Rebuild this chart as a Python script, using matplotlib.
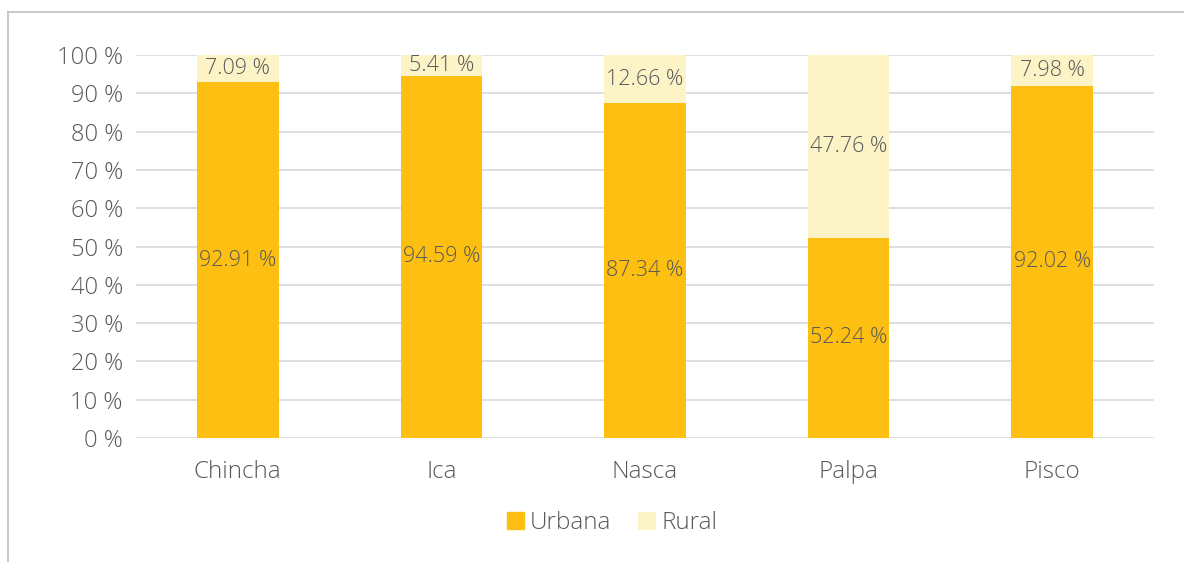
import matplotlib.pyplot as plt
import numpy as np
from matplotlib.lines import Line2D
from matplotlib.patches import Patch

provinces = ["Chincha", "Ica", "Nasca", "Palpa", "Pisco"]
urbana = [92.91, 94.59, 87.34, 52.24, 92.02]
rural = [7.09, 5.41, 12.66, 47.76, 7.98]

plt.rcParams['font.family'] = ['Open Sans', 'DejaVu Sans']
plt.rcParams['font.weight'] = 'light'
text_color = '#595959'
c_urb = '#FCBF12'
c_rur = '#FCF3C7'

W, H = 1184, 562
fig = plt.figure(figsize=(W / 100, H / 100), dpi=100)
ax = fig.add_axes([136 / W, 1 - 438 / H, (1154 - 136) / W, (438 - 55) / H])

x = np.arange(len(provinces))
ax.bar(x, urbana, width=0.4, color=c_urb, zorder=2, label="Urbana")
ax.bar(x, rural, width=0.4, bottom=urbana, color=c_rur, zorder=2, label="Rural")

# data labels
for i in range(len(provinces)):
    ax.text(x[i], urbana[i] / 2, f"{urbana[i]:.2f} %", ha='center', va='center',
            fontsize=15.5, color=text_color, zorder=3)
    ax.text(x[i], urbana[i] + rural[i] / 2, f"{rural[i]:.2f} %", ha='center', va='center',
            fontsize=15.5, color=text_color, zorder=3)

ax.set_xlim(-0.5, len(provinces) - 0.5)
ax.set_ylim(0, 100)
ax.set_yticks(range(0, 101, 10))
ax.set_yticklabels([f"{v} %" for v in range(0, 101, 10)])
ax.set_xticks(x)
ax.set_xticklabels(provinces)
ax.tick_params(axis='y', length=0, labelsize=17, colors=text_color, pad=9.5)
ax.tick_params(axis='x', length=0, labelsize=17.5, colors=text_color, pad=16)
ax.grid(axis='y', color='#d9d9d9', linewidth=1.2, zorder=0)
for s in ax.spines.values():
    s.set_visible(False)

handles = [Patch(color=c_urb, label="Urbana"), Patch(color=c_rur, label="Rural")]
fig.legend(handles=handles, loc='center', bbox_to_anchor=(612 / W, 1 - 523 / H), ncol=2,
           frameon=False, fontsize=17.5, labelcolor=text_color, handlelength=0.7,
           handleheight=0.7, handletextpad=0.25, columnspacing=1.1)

# outer chart border (left and top visible)
fig.add_artist(Line2D([8 / W, 8 / W], [0, 1 - 12 / H], color='#bfbfbf', linewidth=1.2))
fig.add_artist(Line2D([8 / W, 1], [1 - 12 / H, 1 - 12 / H], color='#bfbfbf', linewidth=1.2))

fig.savefig("out.png", dpi=100)
